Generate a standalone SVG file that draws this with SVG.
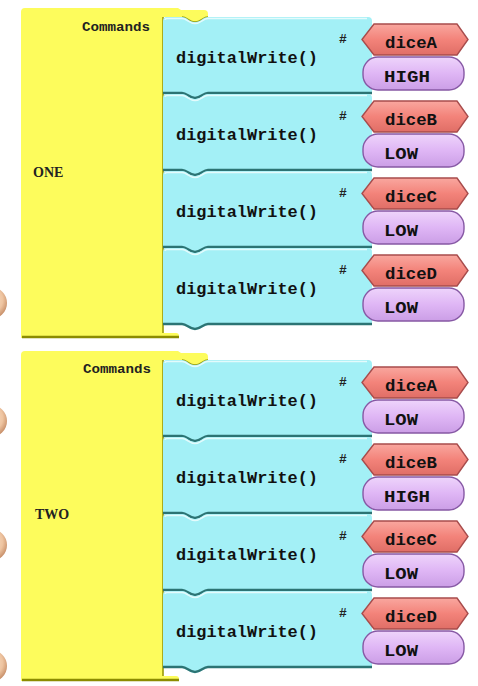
<svg xmlns="http://www.w3.org/2000/svg" xmlns:xlink="http://www.w3.org/1999/xlink" width="478" height="686" viewBox="0 0 478 686">
<style>
.yel{fill:#fdfc5c}
.ysh{fill:none;stroke:#9a9a08;stroke-width:1.6}
.ybot{fill:none;stroke:#8c8c00;stroke-width:2.6}
.cy{fill:#a3f0f6}
.cyl{fill:none;stroke:#2c7474;stroke-width:2.4}
.cyh{fill:none;stroke:#ffffff;stroke-opacity:0.7;stroke-width:1.4}
.hex{fill:url(#gHex);stroke:#a84c4c;stroke-width:1.4}
.pill{fill:url(#gPill);stroke:#8658a4;stroke-width:1.4}
.mono{font-family:"Liberation Mono","DejaVu Sans Mono",monospace;font-weight:bold;fill:#111}
.fn{font-size:16.5px}
.arg{font-size:16px}
.hash{font-family:"Liberation Mono","DejaVu Sans Mono",monospace;font-weight:bold;font-size:13px;fill:#222}
.cmd{font-family:"Liberation Mono","DejaVu Sans Mono",monospace;font-size:12px;font-weight:bold;fill:#222}
.lbl{font-family:"Liberation Serif","DejaVu Serif",serif;font-weight:bold;font-size:14px;fill:#222}
</style>
<defs>
<linearGradient id="gHex" x1="0" y1="0" x2="0" y2="1">
<stop offset="0" stop-color="#f9a79f"/>
<stop offset="0.5" stop-color="#f3837a"/>
<stop offset="1" stop-color="#e06e66"/>
</linearGradient>
<linearGradient id="gPill" x1="0" y1="0" x2="0" y2="1">
<stop offset="0" stop-color="#eed4fb"/>
<stop offset="0.5" stop-color="#dfb6f5"/>
<stop offset="1" stop-color="#cb9ee6"/>
</linearGradient>
<radialGradient id="gBall" cx="0.45" cy="0.4" r="0.6">
<stop offset="0" stop-color="#fbe6d0"/>
<stop offset="0.7" stop-color="#eec4a0"/>
<stop offset="1" stop-color="#c8906a"/>
</radialGradient>
<path id="cyShape" d="M0,4 Q0,0 4,0 L19,0 C24,0 26,5 32,5 C38,5 40,0 45,0 L205,0 Q209,0 209,4 L209,77 L45,77 C40,77 38,82 32,82 C26,82 24,77 19,77 L0,77 Z"/>
<path id="cyBot" d="M0,76 L19,76 C24,76 26,81 32,81 C38,81 40,76 45,76 L209,76"/>
<path id="cyTop" d="M2,3 Q2,1.5 4,1.5 L19,1.5 C24,1.5 26,6.5 32,6.5 C38,6.5 40,1.5 45,1.5 L204,1.5"/>
<path id="hexShape" d="M199,22.5 L211,7 L294,7 L305,22.5 L294,38 L211,38 Z"/>
<rect id="pillShape" x="200" y="40" width="101" height="33" rx="15" ry="15"/>
<path id="yShape" d="M21,12 Q21,8 25,8 L178,8 L181,10 L204,10 Q208,10 208,14 L208,17 C203,17 201,22 195,22 C189,22 187,17 182,17 L163,17 L163,333 L176,333 Q179,333 179,336 L179,338 L21,338 Z"/>
</defs>

<g id="balls">
<circle cx="-9" cy="303" r="16" fill="url(#gBall)"/>
<circle cx="-9" cy="421" r="16" fill="url(#gBall)"/>
<circle cx="-9" cy="545" r="16" fill="url(#gBall)"/>
<circle cx="-9" cy="666" r="16" fill="url(#gBall)"/>
</g>

<g id="procONE">
<use xlink:href="#yShape" class="yel"/>
<path class="ysh" d="M163,17 L163,333 M182,17 C187,17 189,22 195,22 C201,22 203,17 208,17"/>
<path class="ybot" d="M22,337 L179,337"/>
<text class="cmd" x="82" y="31" textLength="68" lengthAdjust="spacingAndGlyphs">Commands</text>
<text class="lbl" x="33" y="177">ONE</text>
</g>

<g id="procTWO" transform="translate(0,343)">
<use xlink:href="#yShape" class="yel"/>
<path class="ysh" d="M163,17 L163,333 M182,17 C187,17 189,22 195,22 C201,22 203,17 208,17"/>
<path class="ybot" d="M22,337 L179,337"/>
<text class="cmd" x="83" y="30" textLength="68" lengthAdjust="spacingAndGlyphs">Commands</text>
<text class="lbl" x="35" y="176">TWO</text>
</g>

<g id="one_w1" transform="translate(163,17)">
<use xlink:href="#cyShape" class="cy"/><use xlink:href="#cyTop" class="cyh"/><use xlink:href="#cyBot" class="cyl"/>
<text class="mono fn" x="13" y="46" textLength="142" lengthAdjust="spacingAndGlyphs">digitalWrite()</text>
<text class="hash" x="176" y="26">#</text>
<use xlink:href="#hexShape" class="hex"/>
<text class="mono arg" x="222" y="31" textLength="52" lengthAdjust="spacingAndGlyphs">diceA</text>
<use xlink:href="#pillShape" class="pill"/>
<text class="mono arg" x="221" y="65" textLength="46" lengthAdjust="spacingAndGlyphs">HIGH</text>
</g>
<g id="one_w2" transform="translate(163,94)">
<use xlink:href="#cyShape" class="cy"/><use xlink:href="#cyTop" class="cyh"/><use xlink:href="#cyBot" class="cyl"/>
<text class="mono fn" x="13" y="46" textLength="142" lengthAdjust="spacingAndGlyphs">digitalWrite()</text>
<text class="hash" x="176" y="26">#</text>
<use xlink:href="#hexShape" class="hex"/>
<text class="mono arg" x="222" y="31" textLength="52" lengthAdjust="spacingAndGlyphs">diceB</text>
<use xlink:href="#pillShape" class="pill"/>
<text class="mono arg" x="221" y="65" textLength="34" lengthAdjust="spacingAndGlyphs">LOW</text>
</g>
<g id="one_w3" transform="translate(163,171)">
<use xlink:href="#cyShape" class="cy"/><use xlink:href="#cyTop" class="cyh"/><use xlink:href="#cyBot" class="cyl"/>
<text class="mono fn" x="13" y="46" textLength="142" lengthAdjust="spacingAndGlyphs">digitalWrite()</text>
<text class="hash" x="176" y="26">#</text>
<use xlink:href="#hexShape" class="hex"/>
<text class="mono arg" x="222" y="31" textLength="52" lengthAdjust="spacingAndGlyphs">diceC</text>
<use xlink:href="#pillShape" class="pill"/>
<text class="mono arg" x="221" y="65" textLength="34" lengthAdjust="spacingAndGlyphs">LOW</text>
</g>
<g id="one_w4" transform="translate(163,248)">
<use xlink:href="#cyShape" class="cy"/><use xlink:href="#cyTop" class="cyh"/><use xlink:href="#cyBot" class="cyl"/>
<text class="mono fn" x="13" y="46" textLength="142" lengthAdjust="spacingAndGlyphs">digitalWrite()</text>
<text class="hash" x="176" y="26">#</text>
<use xlink:href="#hexShape" class="hex"/>
<text class="mono arg" x="222" y="31" textLength="52" lengthAdjust="spacingAndGlyphs">diceD</text>
<use xlink:href="#pillShape" class="pill"/>
<text class="mono arg" x="221" y="65" textLength="34" lengthAdjust="spacingAndGlyphs">LOW</text>
</g>

<g id="two_w1" transform="translate(163,360)">
<use xlink:href="#cyShape" class="cy"/><use xlink:href="#cyTop" class="cyh"/><use xlink:href="#cyBot" class="cyl"/>
<text class="mono fn" x="13" y="46" textLength="142" lengthAdjust="spacingAndGlyphs">digitalWrite()</text>
<text class="hash" x="176" y="26">#</text>
<use xlink:href="#hexShape" class="hex"/>
<text class="mono arg" x="222" y="31" textLength="52" lengthAdjust="spacingAndGlyphs">diceA</text>
<use xlink:href="#pillShape" class="pill"/>
<text class="mono arg" x="221" y="65" textLength="34" lengthAdjust="spacingAndGlyphs">LOW</text>
</g>
<g id="two_w2" transform="translate(163,437)">
<use xlink:href="#cyShape" class="cy"/><use xlink:href="#cyTop" class="cyh"/><use xlink:href="#cyBot" class="cyl"/>
<text class="mono fn" x="13" y="46" textLength="142" lengthAdjust="spacingAndGlyphs">digitalWrite()</text>
<text class="hash" x="176" y="26">#</text>
<use xlink:href="#hexShape" class="hex"/>
<text class="mono arg" x="222" y="31" textLength="52" lengthAdjust="spacingAndGlyphs">diceB</text>
<use xlink:href="#pillShape" class="pill"/>
<text class="mono arg" x="221" y="65" textLength="46" lengthAdjust="spacingAndGlyphs">HIGH</text>
</g>
<g id="two_w3" transform="translate(163,514)">
<use xlink:href="#cyShape" class="cy"/><use xlink:href="#cyTop" class="cyh"/><use xlink:href="#cyBot" class="cyl"/>
<text class="mono fn" x="13" y="46" textLength="142" lengthAdjust="spacingAndGlyphs">digitalWrite()</text>
<text class="hash" x="176" y="26">#</text>
<use xlink:href="#hexShape" class="hex"/>
<text class="mono arg" x="222" y="31" textLength="52" lengthAdjust="spacingAndGlyphs">diceC</text>
<use xlink:href="#pillShape" class="pill"/>
<text class="mono arg" x="221" y="65" textLength="34" lengthAdjust="spacingAndGlyphs">LOW</text>
</g>
<g id="two_w4" transform="translate(163,591)">
<use xlink:href="#cyShape" class="cy"/><use xlink:href="#cyTop" class="cyh"/><use xlink:href="#cyBot" class="cyl"/>
<text class="mono fn" x="13" y="46" textLength="142" lengthAdjust="spacingAndGlyphs">digitalWrite()</text>
<text class="hash" x="176" y="26">#</text>
<use xlink:href="#hexShape" class="hex"/>
<text class="mono arg" x="222" y="31" textLength="52" lengthAdjust="spacingAndGlyphs">diceD</text>
<use xlink:href="#pillShape" class="pill"/>
<text class="mono arg" x="221" y="65" textLength="34" lengthAdjust="spacingAndGlyphs">LOW</text>
</g>

<g id="connectors"></g>
</svg>
